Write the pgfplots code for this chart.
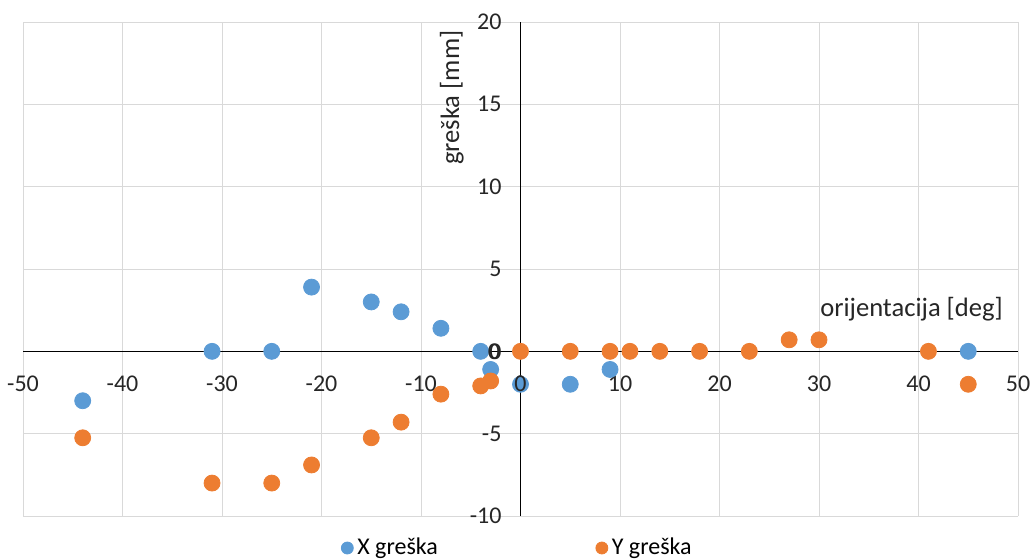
\documentclass[border=0pt]{standalone}
\usepackage{pgfplots}
\pgfplotsset{compat=1.18}
\usepackage{fontspec}
\setmainfont{Carlito}
\definecolor{xblue}{HTML}{5B9BD5}
\definecolor{yorange}{HTML}{ED7D31}
\definecolor{gridgray}{HTML}{D9D9D9}
\begin{document}
\begin{tikzpicture}
\begin{axis}[
  scale only axis, width=497.5pt, height=247pt,
  xmin=-50, xmax=50, ymin=-10, ymax=20,
  axis lines=middle, axis line style={-, black, line width=0.6pt},
  xtick={-50,-40,...,50}, ytick={-10,-5,...,20},
  hide obscured x ticks=false, hide obscured y ticks=false,
  grid=major, major grid style={gridgray, line width=0.5pt},
  major tick length=0pt,
  tick label style={font=\fontsize{12}{14}\selectfont, text=black!85},
  /pgf/number format/assume math mode=true,
  xticklabel style={anchor=north, yshift=-9pt},
  yticklabel style={anchor=east, xshift=-6pt},
  clip=false,
  legend style={at={(axis description cs:0.5,0)}, anchor=center, yshift=-16pt, xshift=-1pt,
    draw=none, fill=none, legend columns=2, font=\fontsize{12}{14}\selectfont,
    /tikz/every even column/.append style={column sep=77pt}},
  legend image code/.code={\draw[#1, mark size=3pt] plot coordinates {(0pt,0pt)};},
]
\addplot[only marks, mark=*, mark size=4pt, draw=xblue, fill=xblue] coordinates {
(-44,-3.0) (-31,0) (-25,0) (-21,3.9) (-15,3.0) (-12,2.4) (-8,1.4) (-4,0) (-3,-1.1)
(0,-2.0) (5,-2.0) (9,-1.1) (45,0)
};
\addlegendentry{X greška}
\addplot[only marks, mark=*, mark size=4pt, draw=yorange, fill=yorange] coordinates {
(-44,-5.25) (-31,-8) (-25,-8) (-21,-6.9) (-15,-5.25) (-12,-4.3) (-8,-2.6) (-4,-2.1) (-3,-1.8)
(0,0) (5,0) (9,0) (11,0) (14,0) (18,0) (23,0) (27,0.7) (30,0.7) (41,0) (45,-2.0)
};
\addlegendentry{Y greška}
\coordinate (O) at (axis cs:0,0);
\node[font=\fontsize{13.3}{16}\selectfont, text=black!85] at (axis cs:39.3,2.55) {orijentacija [deg]};
\node[font=\fontsize{13.3}{16}\selectfont, text=black!85, rotate=90] at (axis cs:-6.9,15.4) {greška [mm]};
\end{axis}
\node[font=\fontsize{12}{14}\selectfont, text=black!85, anchor=north, yshift=-9pt] at (O) {0};
\path (O) ++(-10pt,0pt) node[font=\fontsize{12}{14}\selectfont, text=black!85, anchor=east, inner sep=0pt] {0};
\pgfresetboundingbox
\path[use as bounding box] (-11.5pt,-21.5pt) rectangle (504.5pt,258pt);
\end{tikzpicture}
\end{document}
